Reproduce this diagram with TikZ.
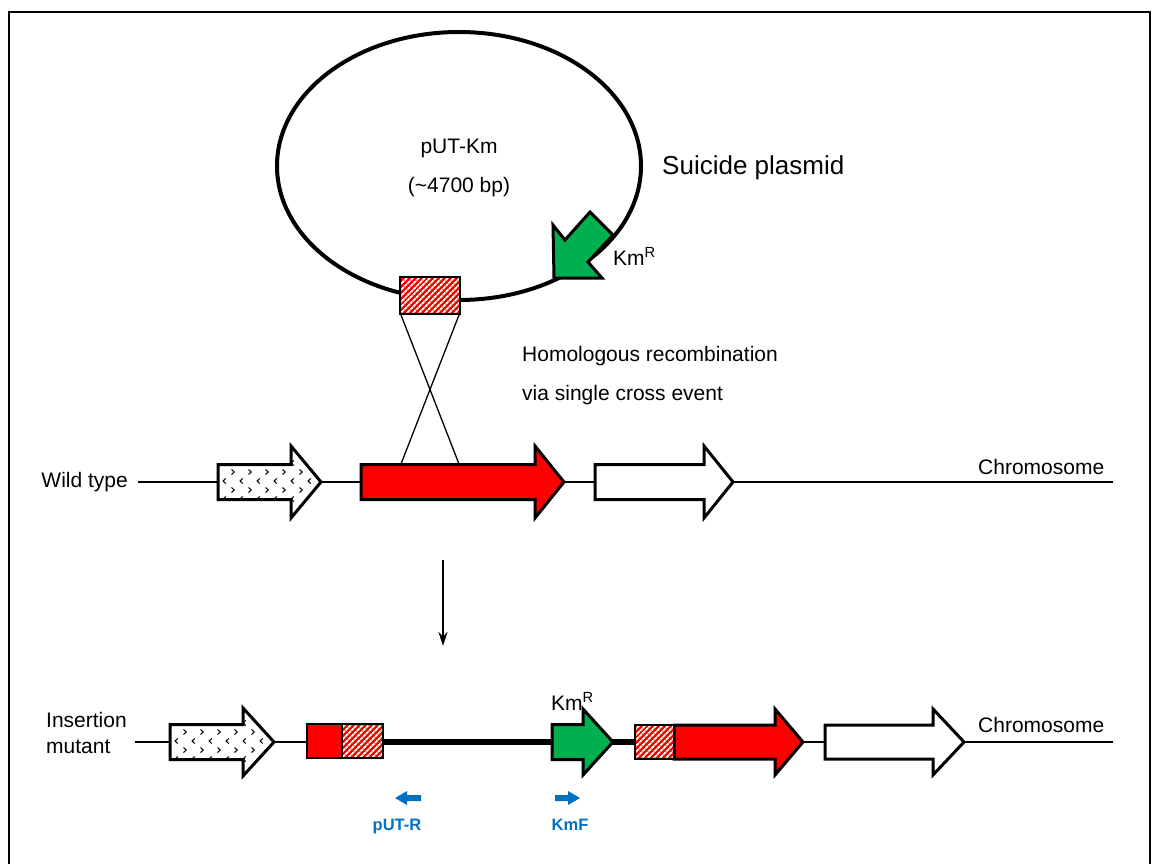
\documentclass[tikz,border=0pt]{standalone}
\usepackage{fontspec}
\setmainfont{Liberation Sans}
\usetikzlibrary{patterns.meta,arrows.meta}
\definecolor{kmgreen}{HTML}{00B050}
\definecolor{pblue}{HTML}{0070C0}
\newcommand\garrow[6]{({#1},{#4-#5}) -- ({#2},{#4-#5}) -- ({#2},{#4-#6}) -- ({#3},{#4}) -- ({#2},{#4+#6}) -- ({#2},{#4+#5}) -- ({#1},{#4+#5}) -- cycle}
\newcommand\dotgene[6]{%
  \begin{scope}
    \clip \garrow{#1}{#2}{#3}{#4}{#5}{#6};
    \fill[white] \garrow{#1}{#2}{#3}{#4}{#5}{#6};
    \foreach \r in {-4,...,4}{
      \foreach \c in {0,...,7}{
        \pgfmathsetmacro\xx{#1+5+\c*17+(mod(abs(\r),2))*8.5}
        \pgfmathsetmacro\yy{#4-1+\r*9}
        \ifodd\r
          \draw[line width=1pt] (\xx,\yy-2.5) -- (\xx+2.8,\yy) -- (\xx,\yy+2.5);
        \else
          \draw[line width=1pt] (\xx+2.8,\yy-2.5) -- (\xx,\yy) -- (\xx+2.8,\yy+2.5);
        \fi
      }
    }
  \end{scope}
  \draw[gene] \garrow{#1}{#2}{#3}{#4}{#5}{#6};
}
\newcommand\hatchbox[4]{%
  \fill[red] (#1,#2) rectangle (#3,#4);
  \fill[pattern={Lines[angle=45,distance=4pt,line width=1.8pt]},pattern color=white] (#1,#2) rectangle (#3,#4);
  \draw[line width=2.5pt] (#1,#2) rectangle (#3,#4);
}
\tikzset{
  gene/.style={line width=3pt, line join=miter},
  lbl/.style={font=\fontsize{21}{25}\selectfont, inner sep=0pt, text height=15pt, text depth=0pt},
  primer/.style={font=\fontsize{16.5}{19}\selectfont\bfseries, text=pblue, inner sep=0pt, text height=12pt, text depth=0pt},
  thin/.style={line width=1.3pt},
}
\begin{document}
\begin{tikzpicture}[x=1pt,y=-1pt]
\useasboundingbox (0,0) rectangle (1152,864);
\clip (0,0) rectangle (1152,864);
% frame
\draw[line width=2pt] (9,880) -- (9,12) -- (1150,12) -- (1150,880);

% plasmid
\draw[line width=4pt] (459,166) ellipse [x radius=182pt, y radius=134pt];
\node[lbl] (put) at (459,146) {pUT-Km};
\node[lbl] (bp) at (459,185) {(\textasciitilde4700 bp)};
\node[font=\fontsize{26}{31}\selectfont, inner sep=0pt, text height=19pt, text depth=0pt, anchor=west] (sp) at (662,165) {Suicide plasmid};
% KmR on plasmid
\fill[kmgreen] (554,278) -- (553,225) -- (565,240) -- (590,212) -- (613,235) -- (588,262) -- (602,278) -- cycle;
\draw[line width=3pt, line join=miter] (554,278) -- (553,225) -- (565,240) -- (590,212) -- (613,235) -- (588,262) -- (602,278) -- cycle;
\node[lbl, anchor=west] (kmr1) at (613,258) {Km\textsuperscript{R}};
% homologous box
\hatchbox{400}{277}{460}{314}
\coordinate (hb1) at (401,315);
\coordinate (hb2) at (459,315);
\coordinate (ra1) at (401,464);
\coordinate (ra2) at (459,464);
\draw[thin] (hb1) -- (ra2);
\draw[thin] (hb2) -- (ra1);
\node[lbl, anchor=west] (hr1) at (522,354) {Homologous recombination};
\node[lbl, anchor=west] (hr2) at (522,393) {via single cross event};

% wild type row
\node[lbl, anchor=east] (wt) at (128,480) {Wild type};
\node[lbl, anchor=west] (chr1) at (978,467) {Chromosome};
\draw[thin] (138,482) -- (1113,482);
\dotgene{218}{291}{321}{482}{17.5}{36}
\draw[gene, fill=red] \garrow{361}{535}{564}{482}{17.5}{36};
\draw[gene, fill=white] \garrow{595}{704}{733}{482}{17.5}{36};

% down arrow
\draw[line width=1.6pt, -{Stealth[length=14pt,width=9pt]}] (443,560) -- (443,646);

% insertion mutant row
\node[lbl, anchor=west] (ins1) at (46,720) {Insertion};
\node[lbl, anchor=west] (ins2) at (46,746) {mutant};
\node[lbl, anchor=west] (chr2) at (978,725) {Chromosome};
\draw[thin] (135,742) -- (1113,742);
\draw[line width=6pt] (383,742) -- (635,742);
\dotgene{170}{243}{274}{742}{17.5}{34}
\fill[red] (307,724) rectangle (342,758);
\draw[line width=2.5pt] (307,724) rectangle (342,758);
\hatchbox{342}{724}{383}{758}
\draw[gene, fill=kmgreen] \garrow{552}{583}{613}{742}{17.5}{33};
\node[lbl, anchor=west] (kmr2) at (551,703) {Km\textsuperscript{R}};
\draw[gene, fill=red] \garrow{674}{775}{803}{742}{17}{33};
\hatchbox{635}{725}{674}{759}
\draw[gene, fill=white] \garrow{825}{933}{964}{742}{17}{33};

% primers
\fill[pblue] (395,798) -- (407,791) -- (407,795) -- (421,795) -- (421,801) -- (407,801) -- (407,805) -- cycle;
\node[primer] (putr) at (397,824) {pUT-R};
\fill[pblue] (580,798) -- (568,791) -- (568,795) -- (555,795) -- (555,801) -- (568,801) -- (568,805) -- cycle;
\node[primer] (kmf) at (570,824) {KmF};
\end{tikzpicture}
\end{document}
